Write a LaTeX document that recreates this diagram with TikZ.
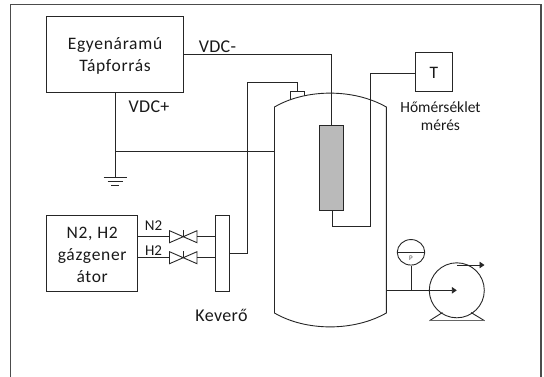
\documentclass[tikz,border=0pt]{standalone}
\usepackage{fontspec}
\setmainfont{Carlito}
\usetikzlibrary{arrows.meta,shapes.geometric}
\tikzset{
 ln/.style={line width=0.9pt,draw=black!85},
 boxn/.style={draw=black!85,line width=0.9pt,fill=white,inner sep=0pt},
 boxt/.style={inner sep=0pt,align=center,text=black!90,font=\fontsize{17.5}{22}\selectfont\addfontfeatures{LetterSpace=4}},
 lbl/.style={inner sep=0pt,font=\fontsize{18}{21}\selectfont\addfontfeatures{LetterSpace=2},text=black!90},
 small/.style={inner sep=0pt,font=\fontsize{15.5}{18.3}\selectfont,text=black!90},
 tip/.style={-{Triangle[length=5pt,width=6.5pt]}}
}
\begin{document}
\begin{tikzpicture}[x=1pt,y=-1pt,every node/.append style={anchor=center}]
\useasboundingbox (0,0) rectangle (544,376);
\draw[line width=1.2pt,draw=black!70] (10.5,377) -- (10.5,4.5) -- (541,4.5) -- (541,377);
% power supply
\node[boxn,minimum width=136.5pt,minimum height=75.6pt] (psu) at (115,54.5) {};
\node[boxt] (psutxt) at (115,55.5) {Egyenáramú\\Tápforrás};
\node[lbl] (vdcm) at (217.5,47) {VDC-};
\node[lbl] (vdcp) at (149,107) {VDC+};
% T box
\node[boxn,minimum width=37pt,minimum height=39pt] (t) at (433.8,72.2) {};
\node[boxt] (ttxt) at (433.8,72.5) {T};
\node[small,align=center] (hm) at (440.5,116) {Hőmérséklet\\mérés};
% vessel
\coordinate (vl) at (274.5,107);
\coordinate (vr) at (386.3,107);
\draw[ln] (vl) .. controls (306,88.5) and (354,88.5) .. (vr) -- (386.3,313) .. controls (354,331.5) and (306,331.5) .. (274.5,313) -- cycle;
% port on top
\coordinate (port) at (297,91);
\draw[ln] (290,99) -- (290,91) -- (304,91) -- (304,96);
% electrode
\node[draw=black!85,line width=0.9pt,fill=black!27,minimum width=23.3pt,minimum height=85pt,inner sep=0pt] (el) at (331.4,167.5) {};
\coordinate (c1) at (331.4,54.6);
\draw[ln] (psu.east |- c1) -- (c1) -- (el.north);
\coordinate (c0) at (332.8,210);
\coordinate (c2) at (332.8,226.7);
\coordinate (c3) at (370.3,226.7);
\coordinate (c4) at (370.3,73.4);
\draw[ln] (c0) -- (c2) -- (c3) -- (c4) -- (t.west |- c4);
% ground
\coordinate (g) at (115,151.7);
\coordinate (gb) at (115,177.5);
\draw[ln] (psu.south -| g) -- (gb);
\draw[ln] (g) -- (vl |- g);
\draw[ln] (103.5,177.8) -- (126.5,177.8) (107.5,181.5) -- (122.5,181.5) (111,185) -- (119,185);
% gas generator
\node[boxn,minimum width=91pt,minimum height=75.6pt] (gen) at (92.2,253.2) {};
\node[boxt] (gentxt) at (92.2,254.5) {N2, H2\\gázgener\\átor};
% mixer
\node[draw=black!85,line width=0.9pt,minimum width=14pt,minimum height=75.6pt,inner sep=0pt] (mix) at (222,253.2) {};
\node[lbl] (kev) at (221.5,315) {Keverő};
\coordinate (m1) at (247,253.3);
\coordinate (m2) at (247,82.8);
\coordinate (m3) at (297,82.8);
\draw[ln] (mix.east |- m1) -- (m1) -- (m2) -- (m3) -- (port);
% gas lines and valves
\foreach \yy/\nm/\tx/\ty in {236.7/a/N2/225.7, 257.7/b/H2/251}{
  \draw[ln] (gen.east |- 0,\yy) -- (169.5,\yy);
  \draw[ln] (197,\yy) -- (mix.west |- 0,\yy);
  \draw[ln] (169.5,\yy-6) -- (197,\yy+6) -- (197,\yy-6) -- (169.5,\yy+6) -- cycle;
  \draw[line width=1.6pt,black!85] (183.3,\yy) -- (183.3,\yy-6.5);
  \node[inner sep=0pt,font=\fontsize{15}{17}\selectfont,text=black!90] (lab\nm) at (153.5,\ty) {\tx};
}
% gauge and pump
\node[draw=black!85,line width=0.9pt,ellipse,minimum width=27.5pt,minimum height=25.5pt,inner sep=0pt] (gauge) at (411,252.3) {};
\draw[ln] (gauge.west) -- (gauge.east);
\node[inner sep=0pt,font=\fontsize{7}{8}\selectfont,text=black!70] (pl) at (411,258) {P};
\node[draw=black!85,line width=0.9pt,circle,minimum size=55pt,inner sep=0pt] (pump) at (456.8,290.3) {};
\coordinate (pj) at (411,290.3);
\coordinate (pt) at (456.8,265);
\coordinate (po) at (484.5,265);
\draw[ln,tip] (vr |- pj) -- (pump.center);
\draw[ln] (gauge.south) -- (pj);
\draw[ln,tip] (pt) -- (po);
\draw[ln] (442.5,312.5) -- (429.5,320.7);
\draw[ln] (471,312.5) -- (484.5,320.7);
\draw[line width=1.4pt,draw=black!60] (429.5,320.7) -- (484.5,320.7);
\end{tikzpicture}
\end{document}
